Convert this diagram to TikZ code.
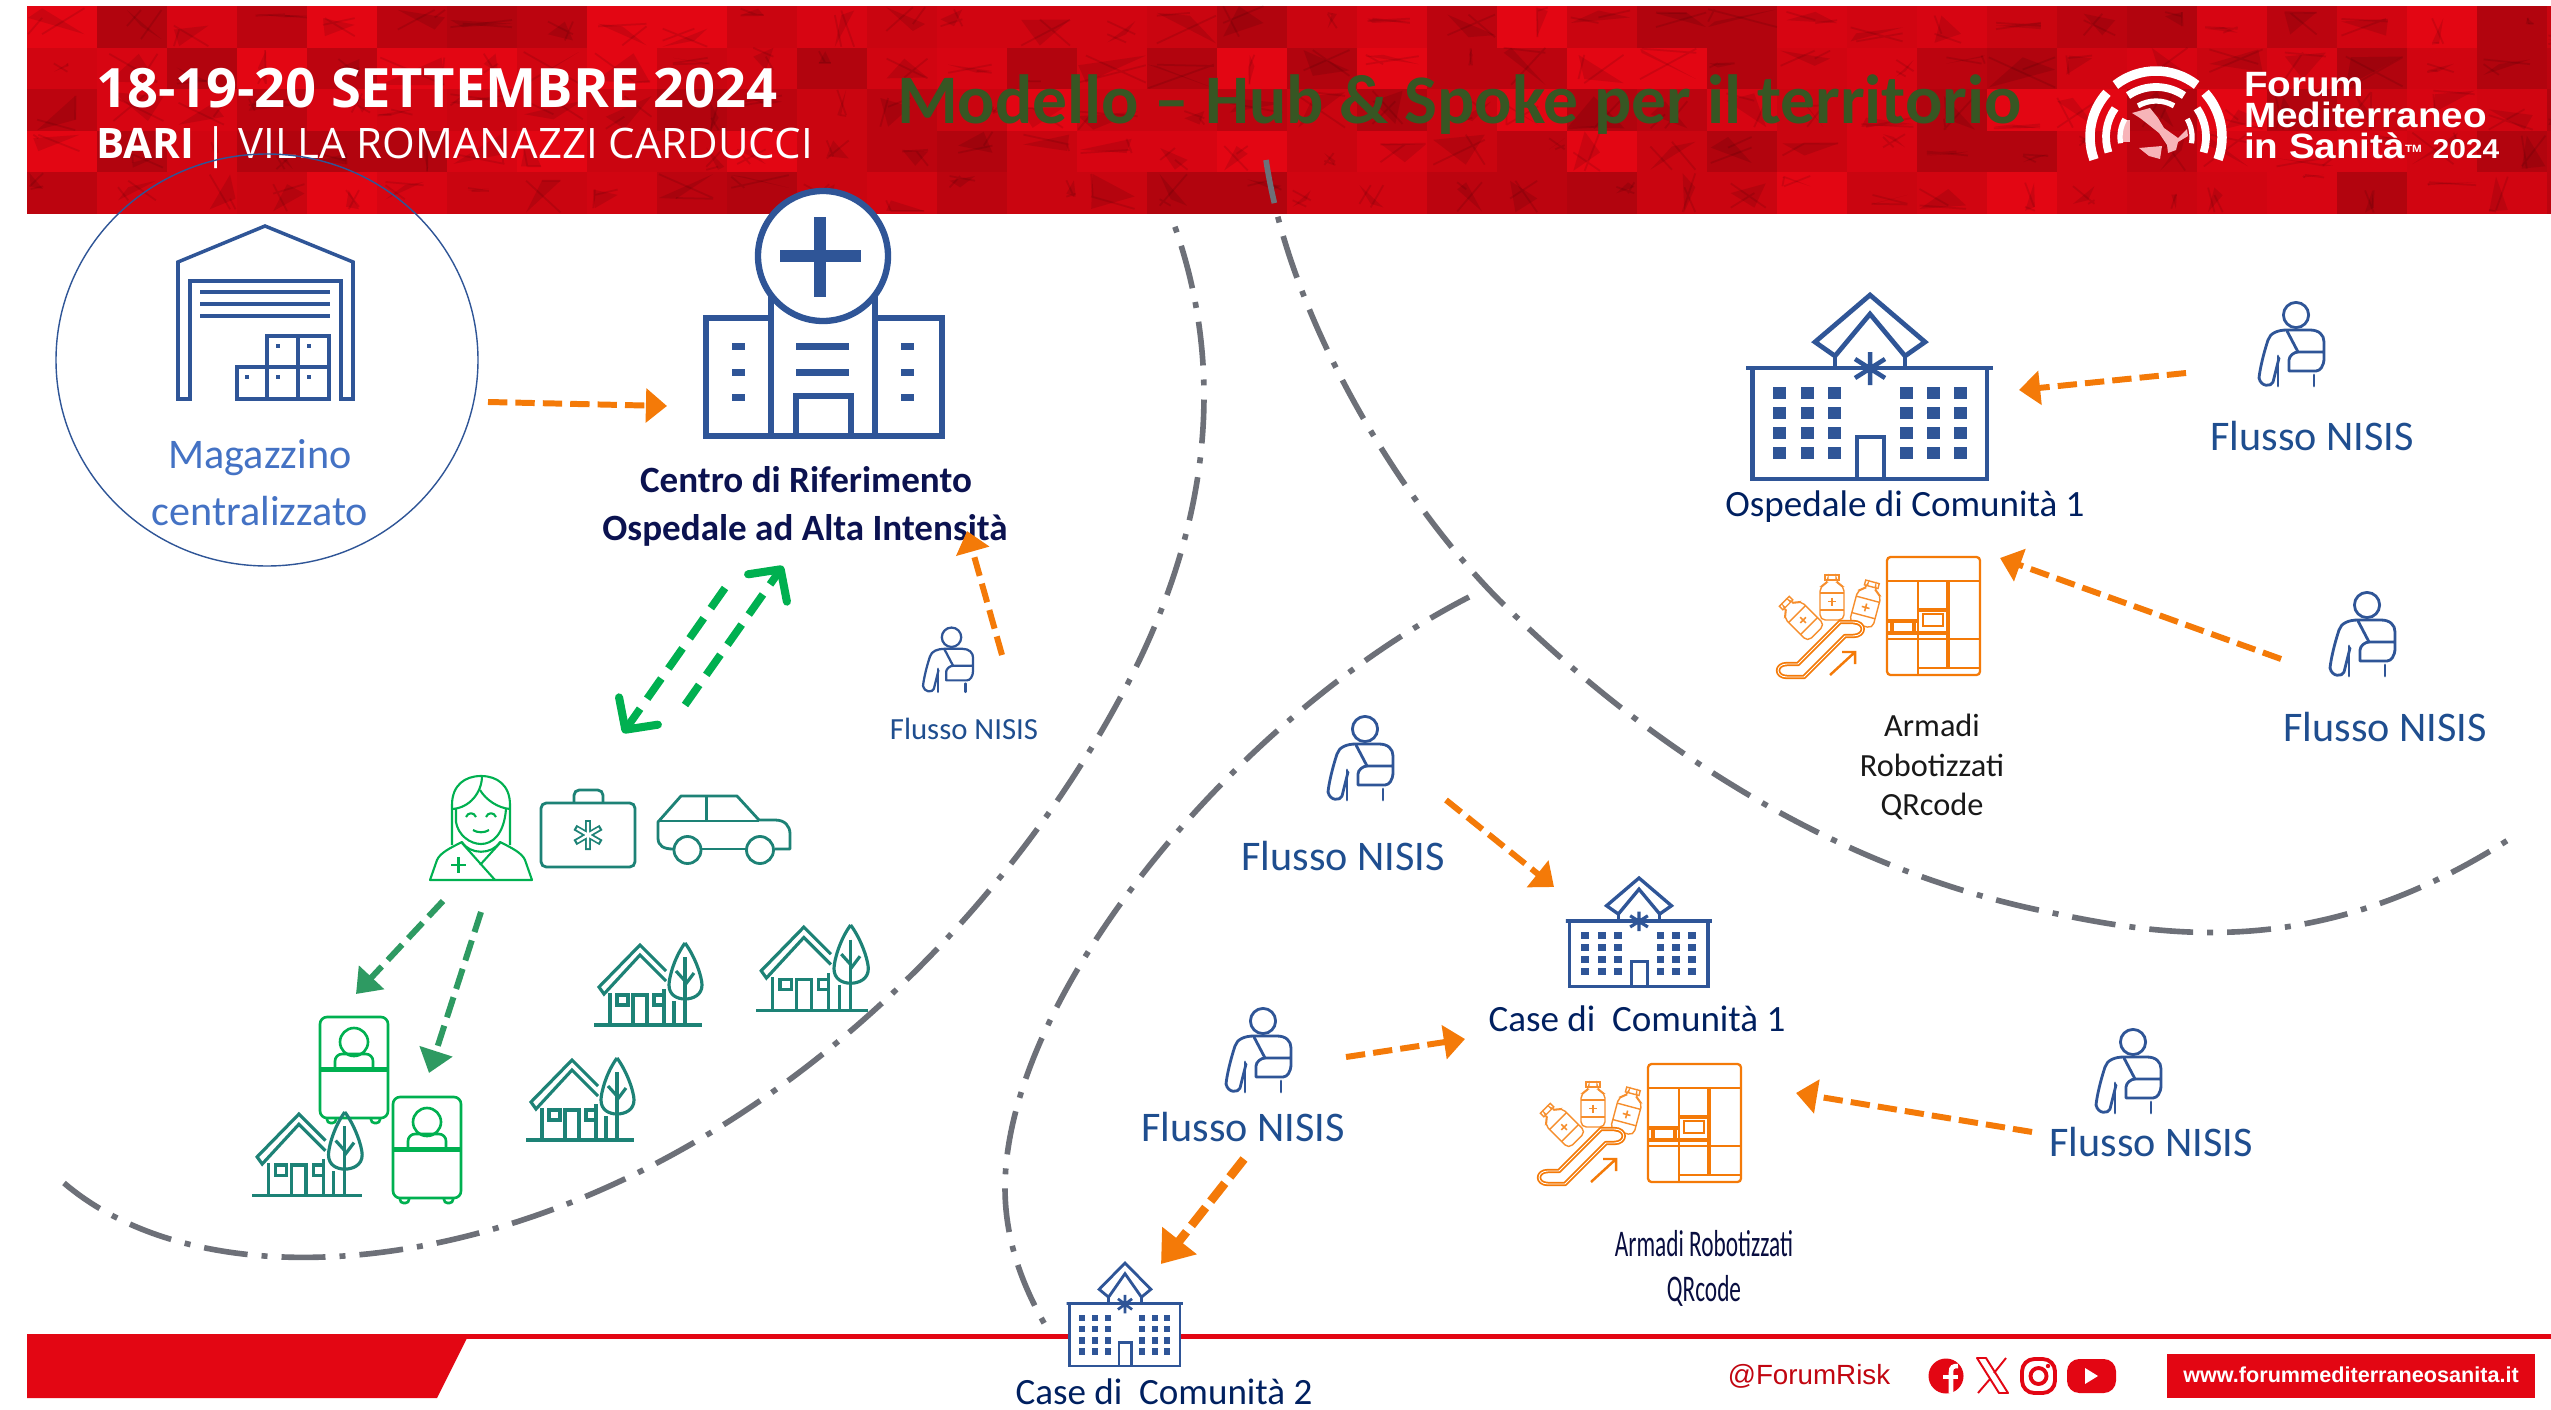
\documentclass[tikz,border=0pt]{standalone}
\usepackage{fontspec}
\setmainfont{Carlito}
\newfontfamily\opensans{Open Sans}
\newfontfamily\arialf{Liberation Sans}
\newfontfamily\arialwide[FakeStretch=1.1]{Liberation Sans}
\newfontfamily\condf[FakeStretch=0.62]{Carlito}
\usetikzlibrary{arrows.meta,calc}
\definecolor{hdrred}{HTML}{E30613}
\definecolor{iconblue}{HTML}{2F5597}
\definecolor{textblue}{HTML}{1F4E8F}
\definecolor{navy}{HTML}{0B1250}
\definecolor{comnavy}{HTML}{002060}
\definecolor{magblue}{HTML}{4472C4}
\definecolor{titlegreen}{HTML}{375623}
\definecolor{orangeA}{HTML}{F47A08}
\definecolor{greenA}{HTML}{00B050}
\definecolor{greenB}{HTML}{2E9A62}
\definecolor{teal}{HTML}{1D8276}
\definecolor{greyC}{HTML}{6D7078}
\tikzset{
  x=0.02cm,y=-0.02cm,
  txt/.style={inner sep=0pt,outer sep=0pt,align=center},
  flux/.style={txt,text=textblue,font=\fontsize{24}{28}\selectfont},
  fluxsmall/.style={txt,text=textblue,font=\fontsize{17.5}{21}\selectfont},
  com/.style={txt,text=comnavy,font=\fontsize{21.1}{25}\selectfont},
  orarrow/.style={draw=orangeA,line width=3.4pt,dash pattern=on 11pt off 4.6pt,
    -{Triangle[length=12pt,width=19pt]}},
  orarrowbig/.style={draw=orangeA,line width=5pt,dash pattern=on 13pt off 4.6pt,
    -{Triangle[length=17pt,width=24pt]}},
  grarrow/.style={draw=greenB,line width=3.4pt,dash pattern=on 12pt off 5pt,
    -{Triangle[length=13pt,width=19pt]}},
  bgarrow/.style={draw=greenA,line width=4.4pt,dash pattern=on 14pt off 7pt,
    -{Straight Barb[length=13pt,width=27pt,line width=4.6pt,round]}},
  border/.style={draw=greyC,line width=3.2pt,dash pattern=on 25pt off 8pt on 3.4pt off 8pt},
}
\newcommand\personicon[3]{%
\begin{scope}[shift={(#1,#2)},scale=#3,draw=iconblue,line width=1.4pt*#3+0.2pt,line join=round,line cap=round]
\draw (76,25) circle[radius=12.6];
\draw (59,68) -- (53,92) .. controls (51,97) and (41,97) .. (39,88) .. controls (40,78) and (44,62) .. (48,50)
  .. controls (50,43) and (58,40) .. (67,40) -- (90,40) .. controls (99,40) and (104,45) .. (104,52) -- (104,68)
  .. controls (104,76) and (100,81) .. (96,81) -- (69,81) -- (69,70) .. controls (69,66) and (74,62) .. (78,62) -- (104,62);
\draw (67,41) -- (78,62);
\draw (58,66) -- (58,96);
\draw (94,85) -- (94,96);
\end{scope}}
\newcommand\commbuilding[5]{% x,y (apex),xscale,yscale,line width
\begin{scope}[shift={(#1,#2)},xscale=#3,yscale=#4,draw=iconblue,line width=#5]
\fill[white] (-117,73) rectangle (117,184);
\fill[white] (-35,30) rectangle (35,74);
\draw[miter limit=4] (-35,61) -- (-55,47) -- (0,0) -- (55,47) -- (35,61) -- (0,19) -- cycle;
\draw (-35,61) -- (-35,73) -- (-124,73) -- (123,73) ;
\draw (35,61) -- (35,73);
\draw (-117.5,73) -- (-117.5,184) -- (117,184) -- (117,73);
\draw (-13,184) -- (-13,142) -- (14,142) -- (14,184);
\draw[line width=#5*0.95] (0,57) -- (0,90) (-15,64) -- (15,83) (-15,83) -- (15,64);
\foreach \rowy in {98,118,138,158}{
 \foreach \colx in {-91,-63,-36,36.5,63,90}{
  \fill[iconblue] (\colx-6.5,\rowy-6) rectangle (\colx+6.5,\rowy+6);
 }}
\end{scope}}
\newcommand\houseicon[3]{%
\begin{scope}[shift={(#1,#2)},scale=#3,draw=teal,line width=1.8pt,line join=miter]
\draw (0,82) -- (108,82);
\draw (72,28) -- (46,2) -- (5,44) -- (10,51) -- (46,12) -- (72,38);
\draw (16,50) -- (16,82) (70,46) -- (70,82);
\draw (23,52) rectangle (34,62) (60,52) rectangle (70,62);
\draw (39,82) -- (39,52) -- (53,52) -- (53,82);
\draw (91,0) .. controls (80,15) and (75,35) .. (75,42) .. controls (75,52) and (83,56) .. (91,56)
  .. controls (99,56) and (108,52) .. (108,42) .. controls (108,35) and (102,15) .. (91,0);
\draw (91,14) -- (91,82) (80,82) -- (80,58);
\draw (91,42) -- (100,30) (91,38) -- (82,28);
\end{scope}}
\newcommand\bedicon[2]{%
\begin{scope}[shift={(#1,#2)},draw=greenA,line width=1.5pt]
\draw[rounded corners=4] (0,0) rectangle (68,101);
\draw[line width=2.4pt] (0,52.5) -- (68,52.5);
\draw (34,25) ellipse[x radius=14,y radius=14];
\draw[rounded corners=4] (15,52) -- (15,37) -- (53,37) -- (53,52);
\draw[rounded corners=2] (7,101) -- (7,106) -- (16,106) -- (16,101);
\draw[rounded corners=2] (51,101) -- (51,106) -- (60,106) -- (60,101);
\end{scope}}
\newcommand\bottleiconb[3]{%
\begin{scope}[shift={(#1,#2)},rotate=#3,draw=orangeA!85,line width=0.8pt]
\draw (-7,-25) rectangle (7,-20);
\draw[rounded corners=3] (-4,-20) -- (-4,-17) -- (-12,-14) -- (-12,20) -- (12,20) -- (12,-14) -- (4,-17) -- (4,-20);
\draw (-12,-7) -- (12,-7) (-12,10) -- (12,10);
\draw[line width=0.9pt] (-4,1.5) -- (4,1.5) (0,-2.5) -- (0,5.5);
\end{scope}}
\newcommand\armadioicon[2]{%
\begin{scope}[shift={(#1,#2)},draw=orangeA,line width=1.3pt]
\fill[white] (127,17) rectangle (220,135);
\draw[rounded corners=2] (127,17) rectangle (220,135);
\draw (127,41) -- (220,41);
\draw (158,41) -- (158,135);
\draw[line width=2.2pt] (188,41) -- (188,128);
\draw[line width=2.2pt] (158,70) -- (188,70);
\draw (163,74) rectangle (183,86);
\draw[line width=1.9pt] (127,81) -- (158,81) (127,93) -- (188,93) (132,81) -- (132,93) (154,81) -- (154,93);
\draw (127,99) -- (220,99);
\draw (158,128) -- (220,128);
\bottleiconb{42}{79}{45}
\bottleiconb{72}{60}{0}
\bottleiconb{106}{66}{-15}
\draw[line width=1pt,line join=round,double=white,double distance=0.5pt]
 (27,124) -- (38,124) -- (80,82) -- (93,82) .. controls (106,82) and (106,96) .. (93,96) -- (85,96) -- (44,137) -- (27,137) .. controls (15,137) and (15,124) .. (27,124) -- cycle;
\draw[line width=1.4pt] (70,135) -- (95,112) (82,112) -- (95,112) -- (95,124);
\end{scope}}
\begin{document}
\begin{tikzpicture}
\useasboundingbox (0,0) rectangle (2551,1409);
\fill[white] (0,0) rectangle (2551,1409);
% ---------- header band
\fill[hdrred] (27,6) rectangle (2551,214);
\pgfmathsetseed{2024}
\begin{scope}
\clip (27,6) rectangle (2551,214);
\foreach \row in {0,1,2,3,4}{
 \foreach \col in {0,...,36}{
  \pgfmathsetmacro\tx{27+\col*70}
  \pgfmathsetmacro\ty{6+\row*41.6}
  \pgfmathtruncatemacro\pick{random(0,5)}
  \ifcase\pick\relax
  \or \fill[black,fill opacity=0.05] (\tx,\ty) rectangle ++(70,41.6);
  \or \fill[black,fill opacity=0.11] (\tx,\ty) rectangle ++(70,41.6);
  \or \fill[black,fill opacity=0.17] (\tx,\ty) rectangle ++(70,41.6);
  \or \fill[black,fill opacity=0.08] (\tx,\ty) rectangle ++(70,41.6);
  \or \fill[black,fill opacity=0.21] (\tx,\ty) rectangle ++(70,41.6);
  \fi
  \pgfmathsetmacro\pa{\tx+rnd*70}\pgfmathsetmacro\pb{\ty+rnd*41}
  \pgfmathsetmacro\pc{\tx+rnd*70}\pgfmathsetmacro\pd{\ty+rnd*41}
  \pgfmathsetmacro\pe{\tx+rnd*70}\pgfmathsetmacro\pf{\ty+rnd*41}
  \fill[black,fill opacity=0.10] (\pa,\pb) -- (\pc,\pd) -- (\pe,\pf) -- cycle;
  \draw[black,draw opacity=0.10,line width=1pt] (\pc,\pb) -- (\pe,\pd) (\pa,\pf) -- (\pe,\pb);
 }}
\end{scope}
\node[txt,anchor=base west,text=white,font={\opensans\bfseries\fontsize{30.9}{36}\selectfont}] (datehead) at (96,108) {18-19-20 SETTEMBRE 2024};
\node[txt,anchor=base west,text=white,font={\opensans\fontsize{23.9}{28}\selectfont}] (placehead) at (96,159) {{\bfseries BARI} | VILLA ROMANAZZI CARDUCCI};
\node[txt,anchor=base west,text=titlegreen,font={\bfseries\fontsize{39.6}{48}\selectfont}] (maintitle) at (897,124) {Modello – Hub \& Spoke per il territorio};
% logo
\coordinate (logoc) at (2156,137);
\fill[white!70!hdrred] ($(logoc)+(-24,-24)$) -- ++(18,-5) -- ++(8,10) -- ++(6,10) -- ++(14,10) -- ++(9,-9) -- ++(1,7) -- ++(-10,6) -- ++(-2,8) -- ++(-8,3) -- ++(-1,-8) -- ++(-8,-12) -- ++(-10,-8) -- ++(-9,-7) -- cycle;
\fill[white!70!hdrred] ($(logoc)+(-17,11)$) -- ++(23,-2) -- ++(-2,13) -- ++(-11,-3) -- cycle;
\fill[white!70!hdrred] ($(logoc)+(-35,-17)$) rectangle ++(9,22);
\foreach \rad/\wid/\aa/\ab/\ba/\bb/\ca/\cb in {66/5.4pt/232/308/160/222/-42/20, 50/4.4pt/236/304/162/215/-35/18, 36/3pt/240/300/170/210/-30/10}{
 \draw[white,line width=\wid] ([shift={(\aa:\rad)}]logoc) arc[start angle=\aa,end angle=\ab,radius=\rad];
 \draw[white,line width=\wid] ([shift={(\ba:\rad)}]logoc) arc[start angle=\ba,end angle=\bb,radius=\rad];
 \draw[white,line width=\wid] ([shift={(\ca:\rad)}]logoc) arc[start angle=\ca,end angle=\cb,radius=\rad];
}
\node[txt,anchor=base west,text=white,font={\arialwide\bfseries\fontsize{20}{24}\selectfont}] (logoa) at (2244,97) {Forum};
\node[txt,anchor=base west,text=white,font={\arialwide\bfseries\fontsize{20}{24}\selectfont}] (logob) at (2244,128) {Mediterraneo};
\node[txt,anchor=base west,text=white,font={\arialwide\bfseries\fontsize{20}{24}\selectfont}] (logoc2) at (2244,159) {in Sanità{\fontsize{6}{6}\selectfont\raisebox{1.2ex}{TM}} {\fontsize{15.5}{18}\selectfont 2024}};
% ---------- footer
\fill[hdrred] (27,1334) -- (469,1334) -- (437,1398) -- (27,1398) -- cycle;
\draw[hdrred,line width=2.6pt] (440,1336.5) -- (2551,1336.5);
\node[txt,text=hdrred!85!black,font={\arialf\fontsize{15.8}{19}\selectfont}] (handle) at (1809,1376) {@ForumRisk};
\fill[hdrred] (1946,1376) circle[radius=17.5];
\draw[white,line width=2.6pt] (1951,1393) -- (1951,1372) .. controls (1951,1367) and (1953,1366) .. (1958,1366);
\draw[white,line width=2.6pt] (1943,1377) -- (1958,1377);
\draw[hdrred,line width=1.1pt,line join=round] (1977,1358) -- (1986,1358) -- (2008,1393) -- (1999,1393) -- cycle;
\draw[hdrred,line width=1.1pt] (2006,1358) -- (1994,1373) (1978,1393) -- (1990,1379);
\draw[hdrred,line width=2.2pt,rounded corners=7] (2022,1359) rectangle (2055,1393);
\draw[hdrred,line width=2.2pt] (2038.5,1376) circle[radius=8];
\fill[hdrred] (2048,1366) circle[radius=2.2];
\fill[hdrred,rounded corners=7] (2067,1359) rectangle (2116,1393);
\fill[white] (2085,1368) -- (2098,1376) -- (2085,1384) -- cycle;
\fill[hdrred] (2167,1354) rectangle (2535,1398);
\node[txt,text=white,font={\arialf\bfseries\fontsize{12.3}{14}\selectfont}] (weburl) at (2351,1375) {www.forummediterraneosanita.it};
% ---------- territory borders
\draw[border] (64,1183) .. controls (160,1265) and (330,1280) .. (510,1224) .. controls (780,1140) and (1000,920) .. (1119,700) .. controls (1190,570) and (1240,400) .. (1171,216);
\draw[border] (1266,160) .. controls (1290,320) and (1400,500) .. (1499,600) .. controls (1600,700) and (1790,860) .. (2048,912) .. controls (2170,938) and (2320,960) .. (2508,840);
\draw[border] (1469,597) .. controls (1230,720) and (1005,1000) .. (1005,1188) .. controls (1005,1250) and (1030,1300) .. (1051,1335);
% ---------- warehouse
\draw[iconblue,line width=0.8pt] (267,360) ellipse[x radius=211,y radius=206];
\begin{scope}[draw=iconblue,line width=2pt]
\draw (178,399) -- (178,262) -- (265,226) -- (353,262) -- (353,399) -- (341,399) -- (341,281) -- (190,281) -- (190,399) -- cycle;
\draw (200,292) -- (330,292) (200,304) -- (330,304) (200,316) -- (330,316);
\draw (237,399) rectangle (329,367) (267,367) rectangle (329,336) (267,399) -- (267,367) (298,399) -- (298,336);
\foreach \dx/\dy in {247/377,278/377,309/377,278/346,309/346}{\fill[iconblue] (\dx-2,\dy-2) rectangle (\dx+2,\dy+2);}
\end{scope}
\node[txt,text=magblue,font=\fontsize{24}{30}\selectfont] (magazzino) at (260,458) {Magazzino};
\node[txt,text=magblue,font=\fontsize{24}{30}\selectfont] (centralizzato) at (260,511) {centralizzato};
% ---------- hub hospital
\begin{scope}[draw=iconblue,line width=3.2pt]
\draw (706,436) rectangle (942,318);
\fill[white] (771,298) rectangle (875,436);
\draw (771,298) rectangle (875,436);
\draw (706,436) -- (942,436);
\draw (796,436) -- (796,396) -- (851,396) -- (851,436);
\draw[fill=white,line width=3.6pt] (823,256) circle[radius=65];
\fill[iconblue] (780,250) rectangle (861,262);
\fill[iconblue] (814,217) rectangle (826,297);
\foreach \wy in {346,372,397}{\fill[iconblue] (732,\wy-3.5) rectangle (745,\wy+3.5);\fill[iconblue] (901,\wy-3.5) rectangle (914,\wy+3.5);}
\fill[iconblue] (796,343) rectangle (849,349.5);
\fill[iconblue] (796,369) rectangle (849,375.5);
\end{scope}
\node[txt,text=navy,font={\bfseries\fontsize{21.1}{25}\selectfont}] (centroa) at (806,480) {Centro di Riferimento};
\node[txt,text=navy,font={\bfseries\fontsize{21.1}{25}\selectfont}] (centrob) at (805,530) {Ospedale ad Alta Intensità};
% ---------- community buildings
\commbuilding{1870}{295}{1}{1}{2.7pt}
\node[com] (osp1) at (1905,507) {Ospedale di Comunità 1};
\commbuilding{1639}{878}{0.59}{0.59}{1.9pt}
\node[com] (case1) at (1637,1019) {Case di\ \ Comunità 1};
\commbuilding{1125}{1263}{0.47}{0.56}{1.6pt}
\node[com] (case2) at (1164,1392) {Case di\ \ Comunità 2};
% ---------- robotic cabinets
\armadioicon{1760}{540}
\armadioicon{1521}{1047}
\node[txt,text=black!90,font=\fontsize{18.4}{22.6}\selectfont] (armadia) at (1932,767) {Armadi\\[0.1pt]Robotizzati\\[0.1pt]QRcode};
\node[txt,text=navy!80!black,font={\condf\fontsize{21.4}{25.6}\selectfont}] (armadib) at (1704,1268) {Armadi Robotizzati\\QRcode};
% ---------- patients
\personicon{2220}{290}{1}
\personicon{2291}{580}{1}
\personicon{1289}{704}{1}
\personicon{1187}{996}{1}
\personicon{2057}{1017}{1}
\personicon{893}{618}{0.77}
\node[flux] (fluxa) at (2312,436) {Flusso NISIS};
\node[flux] (fluxb) at (2385,727) {Flusso NISIS};
\node[flux] (fluxc) at (1343,856) {Flusso NISIS};
\node[flux] (fluxd) at (1243,1127) {Flusso NISIS};
\node[flux] (fluxe) at (2151,1142) {Flusso NISIS};
\node[fluxsmall] (fluxs) at (964,729) {Flusso NISIS};
% ---------- nurse, bag, car
\begin{scope}[shift={(420,770)},draw=greenA,line width=1.2pt,line join=round]
\draw (32,75) -- (32,35) .. controls (32,15) and (45,6) .. (61,6) .. controls (77,6) and (90,15) .. (90,35) -- (90,75);
\draw (62,6) .. controls (62,22) and (50,38) .. (32,39);
\draw (60,20) .. controls (66,30) and (78,38) .. (90,39);
\draw (36,39) -- (36,52) .. controls (38,65) and (50,74) .. (61,74) .. controls (72,74) and (84,65) .. (86,39);
\draw (46,47) .. controls (48,42) and (54,42) .. (56,47);
\draw (66,47) .. controls (68,42) and (74,42) .. (76,47);
\draw (53,60) .. controls (57,63) and (65,63) .. (69,60);
\draw (10,110) -- (17,90) .. controls (20,83) and (30,78) .. (42,72) .. controls (50,85) and (72,85) .. (80,72) .. controls (92,78) and (102,83) .. (105,90) -- (112,110) -- cycle;
\draw (42,73) -- (75,110) (80,73) -- (60,95);
\draw (31,95) -- (46,95) (38.5,87) -- (38.5,103);
\end{scope}
\draw[teal,line width=1.6pt,rounded corners=3] (541,803) rectangle (635,867);
\draw[teal,line width=1.6pt,rounded corners=3] (574,803) -- (574,790) -- (603,790) -- (603,803);
\draw[teal,line width=3.4pt] (588,820) -- (588,850) (575,827.5) -- (601,842.5) (575,842.5) -- (601,827.5);
\draw[white,line width=1.4pt] (588,822) -- (588,848) (577,828.5) -- (599,841.5) (577,841.5) -- (599,828.5);
\begin{scope}[draw=teal,line width=1.6pt,line join=round]
\draw (673,849) .. controls (664,849) and (658,846) .. (658,838) -- (658,822) -- (681,796) -- (737,796) -- (759,820) -- (775,820) .. controls (785,820) and (790,826) .. (790,834) -- (790,849) -- (775,849);
\draw (702,849) -- (746,849);
\draw (687.5,850) circle[radius=13.5] (760,850) circle[radius=13.5];
\draw (658,821) -- (759,821) (706.6,796) -- (706.6,821);
\end{scope}
% ---------- homes and beds
\houseicon{594}{943}{1}
\houseicon{756}{925}{1.04}
\houseicon{526}{1058}{1}
\bedicon{320}{1017}
\bedicon{393}{1097}
\houseicon{252}{1112}{1.02}
% ---------- connectors (named end points)
\coordinate (magstart) at (488,402);
\coordinate (hubwest) at (667,406);
\draw[orarrow] (magstart) -- (hubwest);
\coordinate (smallstart) at (1002,655);
\coordinate (hubsouth) at (967,531);
\draw[orarrow] (smallstart) -- (hubsouth);
\coordinate (fa) at (2186,373);
\coordinate (ospeast) at (2019,390);
\draw[orarrow] (fa) -- (ospeast);
\coordinate (fb) at (2281,659);
\coordinate (armeast) at (2000,558);
\draw[orarrow] (fb) -- (armeast);
\coordinate (fc) at (1446,800);
\coordinate (casenw) at (1554,887);
\draw[orarrow] (fc) -- (casenw);
\coordinate (fd) at (1346,1057);
\coordinate (casew) at (1465,1039);
\draw[orarrow] (fd) -- (casew);
\coordinate (fe) at (2032,1132);
\coordinate (arme) at (1796,1093);
\draw[orarrow] (fe) -- (arme);
\coordinate (ff) at (1244,1159);
\coordinate (casene) at (1161,1264);
\draw[orarrowbig] (ff) -- (casene);
\coordinate (hubb) at (725,588);
\coordinate (nurset) at (623,733);
\draw[bgarrow] (hubb) -- (nurset);
\coordinate (nursetb) at (685,705);
\coordinate (hubc) at (783,566);
\draw[bgarrow] (nursetb) -- (hubc);
\coordinate (nursea) at (443,901);
\coordinate (beda) at (356,994);
\draw[grarrow] (nursea) -- (beda);
\coordinate (nurseb) at (481,912);
\coordinate (bedb) at (429,1073);
\draw[grarrow] (nurseb) -- (bedb);
\end{tikzpicture}
\end{document}
